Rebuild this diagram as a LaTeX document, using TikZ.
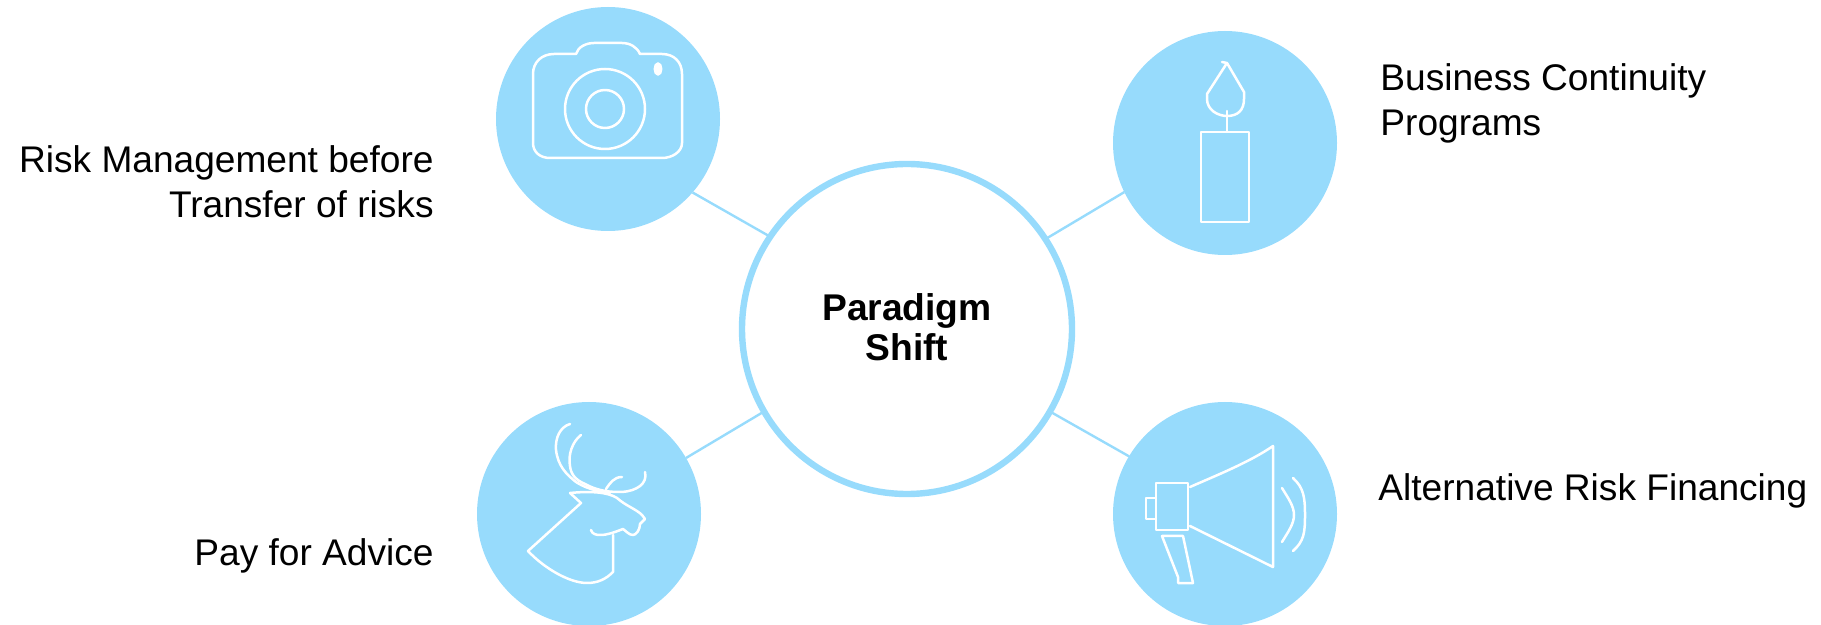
\documentclass[tikz,border=0pt]{standalone}
\usepackage{fontspec}
\setmainfont{Liberation Sans}
\definecolor{sky}{HTML}{97DBFC}
\tikzset{
 x=0.5pt,y=-0.5pt,
 bubble/.style={circle,fill=sky,minimum size=112pt,inner sep=0pt,outer sep=0pt},
 hub/.style={circle,draw=sky,line width=3.2pt,fill=white,minimum size=165pt,inner sep=0pt,outer sep=0pt,font=\fontsize{18.6}{20}\selectfont\bfseries},
 link/.style={draw=sky,line width=1.2pt},
 icon/.style={draw=white,line width=1.25pt,line join=round,line cap=round},
 lab/.style={font=\fontsize{18.55}{22.3}\selectfont,inner sep=0pt},
}
\begin{document}
\begin{tikzpicture}
\useasboundingbox (0,0) rectangle (1821,625);
\node[hub] (hub) at (907,329) {\raisebox{0pt}[\height][\dimexpr\depth-3.5pt\relax]{\begin{tabular}{@{}c@{}}Paradigm\\Shift\end{tabular}}};
\node[bubble] (cam) at (608,119) {};
\node[bubble] (can) at (1225,143) {};
\node[bubble] (deer) at (589,514) {};
\node[bubble] (meg) at (1225,514) {};
\draw[link] (cam.-41.8) -- (hub.146.7);
\draw[link] (can.206) -- (hub.33.4);
\draw[link] (deer.30.4) -- (hub.210.5);
\draw[link] (meg.149.3) -- (hub.-30.5);
\node[lab,align=right,anchor=east] (t1) at (434,181.5) {Risk Management before\\Transfer of risks};
\node[lab,align=left,anchor=west] (t2) at (1380,103.5) {Business Continuity\\Programs};
\node[lab,anchor=east] (t3) at (434,555.5) {Pay for Advice};
\node[lab,anchor=west] (t4) at (1378,490.5) {Alternative Risk Financing};
% camera
\draw[icon] (533,107) -- (533,74) .. controls (533,62) and (542,54) .. (554,54) -- (576,54) .. controls (578,47) and (586,43) .. (594,43) -- (622,43) .. controls (630,43) and (637,47) .. (640,54) -- (662,54) .. controls (674,54) and (682,62) .. (682,74) -- (682,143) .. controls (682,152) and (672,158) .. (662,158) -- (550,158) .. controls (540,158) and (533,152) .. (533,143) -- cycle;
\draw[icon] (605,109) circle (40);
\draw[icon] (605,109) circle (19);
\draw[icon,fill=white] (658,69) ellipse (3.2 and 5.5);
% candle
\draw[icon] (1201,132) rectangle (1249,222);
\draw[icon] (1227,132) -- (1227,111);
\draw[icon] (1227,63) -- (1207,94) -- (1207,99) .. controls (1207,110) and (1218,116) .. (1227,116) .. controls (1238,116) and (1244,110) .. (1244,99) -- (1244,92) -- (1227,63) -- (1222,62);
% deer
\draw[icon] (570,424) .. controls (560,427) and (555,438) .. (556,450) .. controls (558,466) and (566,474) .. (576,482) .. controls (590,491) and (605,492) .. (610,493);
\draw[icon] (581,435) .. controls (572,442) and (568,455) .. (570,466) .. controls (571,475) and (576,480) .. (585,484) .. controls (600,492) and (612,492) .. (622,492) .. controls (636,491) and (648,484) .. (645,472);
\draw[icon] (606,489) .. controls (610,483) and (614,477) .. (622,477);
\draw[icon] (570,493) -- (581,503) -- (528,551) .. controls (545,569) and (570,583) .. (587,583) .. controls (598,583) and (606,579) .. (613,572) -- (613,535);
\draw[icon] (570,493) .. controls (590,491) and (608,492) .. (617,498) .. controls (626,506) and (636,509) .. (642,515) -- (645,519) -- (640,524) .. controls (640,530) and (636,535) .. (633,535) .. controls (629,535) and (626,531) .. (623,529) .. controls (615,532) and (608,535) .. (600,535) .. controls (596,535) and (592,534) .. (591,530);
% megaphone
\draw[icon] (1156,483) rectangle (1188,530);
\draw[icon] (1146,498) rectangle (1156,519);
\draw[icon] (1190,487) .. controls (1215,476) and (1250,462) .. (1273,446) -- (1273,567) -- (1190,526);
\draw[icon] (1162,536) -- (1183,536) -- (1193,583) -- (1178,583) -- (1178,577) -- cycle;
\draw[icon] (1282,488) .. controls (1288,498) and (1294,506) .. (1294,515) .. controls (1294,524) and (1288,532) .. (1282,542);
\draw[icon] (1293,478) .. controls (1304,488) and (1305,498) .. (1305,515) .. controls (1305,533) and (1304,541) .. (1293,551);
\end{tikzpicture}
\end{document}
